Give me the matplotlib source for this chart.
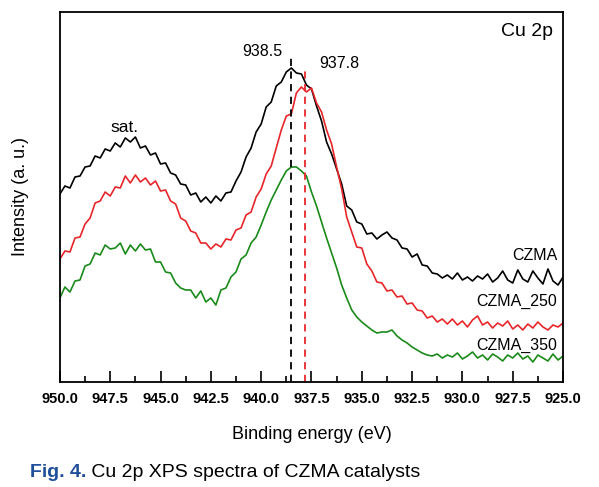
import numpy as np
import matplotlib.pyplot as plt

plt.rcParams['font.family'] = ['Liberation Sans', 'DejaVu Sans']

# binding energy grid, 950 -> 925 eV in 0.25 eV steps
energy = np.linspace(950, 925, 101)

# CZMA (black)
czma = [188, 196, 194, 205, 206, 215, 216, 226, 224, 233,
        231, 239, 235, 244, 240, 245, 234, 236, 227, 229,
        218, 219, 209, 207, 198, 197, 187, 189, 180, 185,
        179, 186, 181, 189, 190, 201, 210, 225, 234, 250,
        258, 275, 280, 296, 300, 310, 314, 309, 308, 297,
        293, 276, 261, 240, 228, 213, 198, 176, 172, 160,
        158, 148, 149, 143, 147, 150, 144, 142, 134, 133,
        125, 128, 117, 116, 109, 108, 104, 107, 103, 109,
        102, 105, 101, 106, 103, 108, 100, 104, 111, 102,
        99, 112, 103, 100, 111, 104, 98, 113, 101, 97,
        105]

# CZMA_250 (red)
czma_250 = [123, 131, 130, 144, 145, 158, 164, 179, 181, 190,
            186, 195, 194, 206, 199, 207, 200, 204, 197, 201,
            191, 192, 181, 178, 164, 161, 151, 149, 139, 139,
            133, 138, 135, 143, 142, 152, 154, 167, 170, 185,
            193, 208, 216, 234, 252, 266, 268, 289, 295, 290,
            294, 279, 270, 252, 238, 215, 193, 165, 150, 135,
            134, 118, 111, 100, 99, 91, 92, 85, 86, 78,
            79, 72, 71, 64, 66, 60, 63, 58, 63, 57,
            61, 55, 62, 66, 57, 60, 54, 59, 56, 61,
            53, 57, 52, 58, 54, 60, 55, 52, 57, 55,
            59]

# CZMA_350 (green)
czma_350 = [84, 95, 90, 101, 102, 116, 118, 129, 127, 137,
            133, 134, 139, 128, 137, 131, 138, 132, 133, 120,
            120, 110, 109, 99, 94, 92, 92, 84, 91, 80,
            84, 77, 92, 94, 105, 110, 123, 127, 139, 145,
            157, 170, 182, 192, 202, 211, 215, 215, 211, 206,
            190, 176, 160, 144, 129, 114, 97, 84, 72, 65,
            60, 56, 52, 49, 50, 50, 52, 46, 42, 39,
            35, 32, 29, 27, 26, 28, 24, 27, 25, 29,
            23, 26, 30, 24, 27, 22, 28, 25, 21, 27,
            24, 29, 23, 26, 20, 27, 24, 21, 28, 22,
            26]

peak_pos = [938.5, 937.8]
peak_colors = ['black', '#e8262a']
xticks = [950.0, 947.5, 945.0, 942.5, 940.0, 937.5, 935.0, 932.5, 930.0, 927.5, 925.0]

fig = plt.figure(figsize=(5.99, 4.87), dpi=100)
ax = fig.add_axes([0.1, 0.2156, 0.84, 0.7598])

ax.plot(energy, czma, color='black', lw=1.2)
ax.plot(energy, czma_250, color='#e8262a', lw=1.2)
ax.plot(energy, czma_350, color='#1a8a1a', lw=1.2)

# dashed peak markers
ax.plot([peak_pos[0]] * 2, [0, 325], color=peak_colors[0], ls=(0, (4, 3)), lw=1.3)
ax.plot([peak_pos[1]] * 2, [0, 312], color=peak_colors[1], ls=(0, (4, 3)), lw=1.3)

ax.text(939.95, 330, '938.5', fontsize=11.5, ha='center', va='center')
ax.text(936.1, 318, '937.8', fontsize=11.5, ha='center', va='center')
ax.text(946.8, 254, 'sat.', fontsize=12.5, ha='center', va='center')
ax.text(925.5, 350, 'Cu 2p', fontsize=14, ha='right', va='center')

ax.text(925.3, 126, 'CZMA', fontsize=11.5, ha='right', va='center')
ax.text(925.3, 81, 'CZMA_250', fontsize=11.5, ha='right', va='center')
ax.text(925.3, 37, 'CZMA_350', fontsize=11.5, ha='right', va='center')

ax.set_xlim(950, 925)
ax.set_ylim(0, 370)
ax.set_xticks(xticks)
ax.set_xticklabels([f'{t:.1f}' for t in xticks], fontweight='bold', fontsize=10.5)
ax.set_xticks(np.arange(948.75, 925, -2.5), minor=True)
ax.set_yticks([])
ax.tick_params(axis='x', which='major', direction='in', length=8, width=1.2, pad=7)
ax.tick_params(axis='x', which='minor', direction='in', length=4, width=1.2)
for s in ax.spines.values():
    s.set_linewidth(1.3)

ax.set_xlabel('Binding energy (eV)', fontsize=13)
ax.xaxis.set_label_coords(0.5, -0.12)
ax.set_ylabel('Intensity (a. u.)', fontsize=13)
ax.yaxis.set_label_coords(-0.062, 0.5)

# caption
t1 = fig.text(0.05, 0.021, 'Fig. 4.', fontsize=14, fontweight='bold',
              color='#1f4e9a', va='baseline')
ax.annotate(' Cu 2p XPS spectra of CZMA catalysts', xy=(1, 0), xycoords=t1,
            fontsize=14, va='bottom', ha='left', annotation_clip=False)

fig.savefig('out.png', dpi=100)
